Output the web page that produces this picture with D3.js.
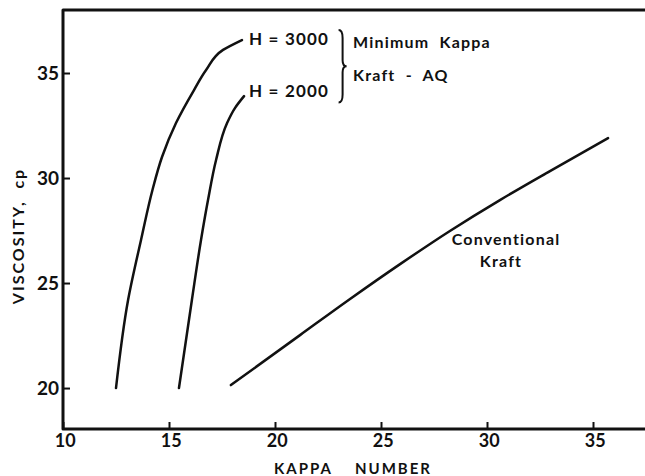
<!DOCTYPE html>
<html>
<head>
<meta charset="utf-8">
<script src="https://cdn.jsdelivr.net/npm/d3@7"></script>
<style>
  body { margin: 0; background: #fff; }
  svg { display: block; }
  text { font-family: "Lato", "DejaVu Sans", sans-serif; fill: #111; }
</style>
</head>
<body>
<div id="chart"></div>
<script>
"use strict";

// values (kappa number vs viscosity, cp)
var h3000Kappa = [12.50, 13.07, 13.68, 14.22, 14.67, 15.33, 16.18, 16.75, 17.55, 18.44];
var h3000Visc  = [20.00, 24.19, 27.05, 29.43, 31.00, 32.62, 34.19, 35.14, 36.10, 36.57];

var h2000Kappa = [15.47, 16.08, 16.51, 16.84, 17.22, 17.74, 18.11, 18.54];
var h2000Visc  = [20.00, 24.19, 27.05, 28.95, 30.86, 32.62, 33.33, 33.90];

var convKappa = [17.92, 21.18, 23.54, 25.90, 28.25, 30.61, 32.97, 35.71];
var convVisc  = [20.14, 22.52, 24.24, 25.90, 27.48, 28.95, 30.33, 31.90];

var xTicks = [10, 15, 20, 25, 30, 35];
var yTicks = [20, 25, 30, 35];

var W = 645, H = 476;

var x = d3.scaleLinear().domain([10, 37.5]).range([63, 646]);
var y = d3.scaleLinear().domain([18.05, 38]).range([429, 10]);

var svg = d3.select("#chart")
  .append("svg")
    .attr("width", W)
    .attr("height", H);

// axes, ticks pointing inward like the original
var xAxis = d3.axisBottom(x).tickValues(xTicks).tickSizeInner(-7).tickSizeOuter(0).tickPadding(5);
var yAxis = d3.axisLeft(y).tickValues(yTicks).tickSizeInner(-7).tickSizeOuter(0).tickPadding(4);

var gx = svg.append("g")
  .attr("transform", "translate(0," + y.range()[0] + ")")
  .call(xAxis);
var gy = svg.append("g")
  .attr("transform", "translate(" + x.range()[0] + ",0)")
  .call(yAxis);

[gx, gy].forEach(function(g) {
  g.select(".domain").remove();
  g.selectAll(".tick line").attr("stroke", "#111").attr("stroke-width", 2);
  g.selectAll(".tick text")
    .style("font-weight", "bold")
    .attr("fill", "#111");
});
gx.selectAll(".tick text").style("font-size", "18px").attr("dx", "0.1em");
gy.selectAll(".tick text").style("font-size", "19px");

// frame: left, bottom and top (right side is cut off in the scan)
svg.append("path")
  .attr("d", "M" + W + "," + y(38) + "H" + x(10) + "V" + y.range()[0] + "H" + W)
  .attr("fill", "none")
  .attr("stroke", "#111")
  .attr("stroke-width", 3)
  .attr("stroke-linejoin", "round");

// curves (viscosity rises along every curve, so monotone in y keeps them smooth)
var line = d3.line()
  .x(d => x(d[0]))
  .y(d => y(d[1]))
  .curve(d3.curveMonotoneY);

var series = [
  d3.zip(h3000Kappa, h3000Visc),
  d3.zip(h2000Kappa, h2000Visc),
  d3.zip(convKappa, convVisc)
];

svg.append("g").selectAll("path")
  .data(series)
  .join("path")
    .attr("d", line)
    .attr("fill", "none")
    .attr("stroke", "#111")
    .attr("stroke-width", 2.5)
    .attr("stroke-linecap", "round");

// annotations
function label(k, v, txt, anchor) {
  return svg.append("text")
    .attr("x", x(k))
    .attr("y", y(v))
    .attr("text-anchor", anchor || "start")
    .style("font-size", "16px")
    .style("font-weight", "bold")
    .style("letter-spacing", "1.2px")
    .style("white-space", "pre")
    .text(txt);
}

label(18.77, 36.33, "H = 3000").style("font-size", "17px");
label(18.77, 33.86, "H = 2000").style("font-size", "17px");
label(23.68, 36.19, "Minimum  Kappa");
label(23.68, 34.62, "Kraft  -  AQ");
label(30.9, 26.81, "Conventional", "middle");
label(30.66, 25.76, "Kraft", "middle");

// right curly brace grouping the two H labels
var bx = x(23.0), bt = y(37.05), bb = y(33.6), bm = (bt + bb) / 2;
svg.append("path")
  .attr("d", "M" + bx + "," + bt +
             " Q" + (bx + 4) + "," + bt + " " + (bx + 4) + "," + (bt + 8) +
             " L" + (bx + 4) + "," + (bm - 6) +
             " Q" + (bx + 4) + "," + bm + " " + (bx + 8) + "," + bm +
             " Q" + (bx + 4) + "," + bm + " " + (bx + 4) + "," + (bm + 6) +
             " L" + (bx + 4) + "," + (bb - 8) +
             " Q" + (bx + 4) + "," + bb + " " + bx + "," + bb)
  .attr("fill", "none")
  .attr("stroke", "#111")
  .attr("stroke-width", 2);

// axis titles
svg.append("text")
  .attr("transform", "translate(24,236) rotate(-90)")
  .attr("text-anchor", "middle")
  .style("font-size", "16px")
  .style("font-weight", "bold")
  .style("letter-spacing", "2px")
  .style("white-space", "pre")
  .text("VISCOSITY,  cp");

svg.append("text")
  .attr("x", 353)
  .attr("y", 474)
  .attr("text-anchor", "middle")
  .style("font-size", "15px")
  .style("font-weight", "bold")
  .style("letter-spacing", "2px")
  .style("white-space", "pre")
  .text("KAPPA    NUMBER");
</script>
</body>
</html>
